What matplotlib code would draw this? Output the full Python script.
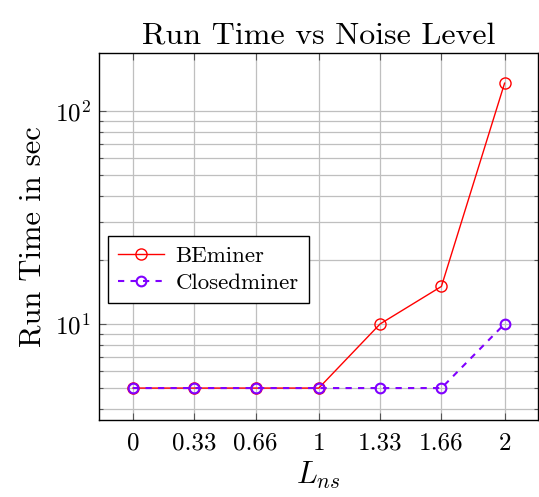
import numpy as np
import matplotlib
matplotlib.use('Agg')
import matplotlib.pyplot as plt
from matplotlib.ticker import LogLocator, NullFormatter

plt.rcParams['font.family'] = 'cmr10'
plt.rcParams['mathtext.fontset'] = 'cm'
plt.rcParams['axes.formatter.use_mathtext'] = True

# data
noise = [0, 0.33, 0.66, 1, 1.33, 1.66, 2]
tick_labels = ['0', '0.33', '0.66', '1', '1.33', '1.66', '2']
beminer = [5, 5, 5, 5, 10, 15, 135]
closedminer = [5, 5, 5, 5, 5, 5, 10]

fig = plt.figure(figsize=(5.39, 4.97), dpi=100)
ax = fig.add_axes([0.1837, 0.1549, 0.8145, 0.7384])

ax.plot(noise, beminer, color='#ff0000', lw=1.0, marker='o', ms=8,
        mfc='none', mec='#ff0000', mew=1.0, label='BEminer', zorder=3)
ax.plot(noise, closedminer, color='#8000ff', lw=1.5, ls=(0, (3, 3)), marker='o', ms=7,
        mfc='none', mec='#8000ff', mew=1.5, label='Closedminer', zorder=3)

ax.set_yscale('log')
ax.set_xlim(-0.183, 2.18)
ax.set_ylim(3.54, 187)
ax.set_xticks(noise)
ax.set_xticklabels(tick_labels)
ax.yaxis.set_major_locator(LogLocator(base=10))
ax.yaxis.set_minor_locator(LogLocator(base=10, subs=np.arange(2, 10)))
ax.yaxis.set_minor_formatter(NullFormatter())

ax.grid(True, which='major', color='#bfbfbf', lw=0.9)
ax.grid(True, which='minor', axis='y', color='#bfbfbf', lw=0.9)
ax.set_axisbelow(True)

ax.tick_params(which='both', direction='in', top=True, right=True, labelsize=18, colors='black')
ax.tick_params(which='major', length=5, width=0.8, color='#555555')
ax.tick_params(which='minor', length=3, width=0.8, color='#555555')
ax.tick_params(axis='x', pad=9)
ax.tick_params(axis='y', pad=6)
for s in ax.spines.values():
    s.set_linewidth(1.0)

ax.set_title('Run Time vs Noise Level', fontsize=23, pad=7)
ax.set_xlabel('$L_{ns}$', fontsize=22, labelpad=4)
ax.set_ylabel('Run Time in sec', fontsize=22, labelpad=6)

leg = ax.legend(loc='center left', bbox_to_anchor=(0.02, 0.41), borderaxespad=0,
                fontsize=16.5, fancybox=False, framealpha=1, edgecolor='black',
                handlelength=2.0, handletextpad=0.5, borderpad=0.45, labelspacing=0.3)
leg.get_frame().set_linewidth(1.0)

fig.savefig('out.png', dpi=100)
